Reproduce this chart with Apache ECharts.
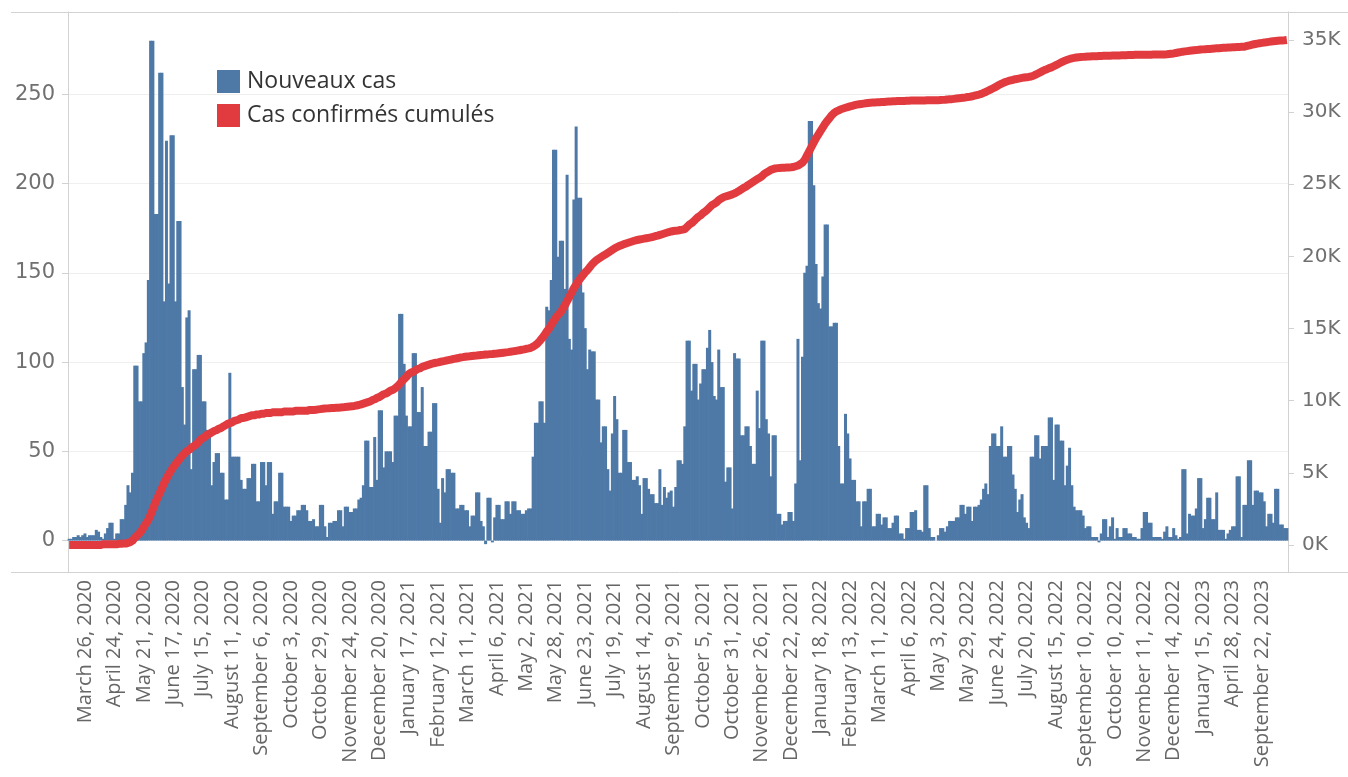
<!DOCTYPE html>
<html><head><meta charset="utf-8">
<script src="https://cdn.jsdelivr.net/npm/echarts@6/dist/echarts.min.js"></script>
<style>html,body{margin:0;padding:0;background:#fff}#chart{width:1348px;height:777px}</style>
</head><body><div id="chart"></div>
<script>
const tickLabels = ["March 26, 2020","April 24, 2020","May 21, 2020","June 17, 2020","July 15, 2020","August 11, 2020","September 6, 2020","October 3, 2020","October 29, 2020","November 24, 2020","December 20, 2020","January 17, 2021","February 12, 2021","March 11, 2021","April 6, 2021","May 2, 2021","May 28, 2021","June 23, 2021","July 19, 2021","August 14, 2021","September 9, 2021","October 5, 2021","October 31, 2021","November 26, 2021","December 22, 2021","January 18, 2022","February 13, 2022","March 11, 2022","April 6, 2022","May 3, 2022","May 29, 2022","June 24, 2022","July 20, 2022","August 15, 2022","September 10, 2022","October 10, 2022","November 11, 2022","December 14, 2022","January 15, 2023","April 28, 2023","September 22, 2023"];
const firstLabelIndex = 7;
const labelStep = 13;

const newCases = [
1,1,2,2,3,2,3,4,2,3,
3,3,6,5,2,1,4,7,10,10,
1,4,4,12,12,20,31,27,38,98,
98,78,78,105,111,146,280,280,183,183,
262,262,134,224,144,227,227,134,179,179,
86,65,125,129,40,96,96,104,104,78,
78,62,62,31,44,49,49,38,38,23,
23,94,47,47,47,47,34,29,29,35,
35,43,43,22,22,44,44,31,44,44,
15,22,22,38,38,19,19,19,11,14,
14,17,17,20,20,17,11,11,12,8,
8,20,20,8,2,10,10,11,11,17,
17,8,19,19,16,16,18,18,23,24,
31,56,56,30,30,58,34,73,73,41,
50,50,50,44,70,70,127,127,99,70,
64,64,105,105,72,72,86,53,53,61,
61,77,77,29,10,35,27,40,40,38,
38,18,18,20,20,17,17,8,14,14,
27,27,11,8,-2,24,24,-1,13,20,
20,12,12,22,22,15,22,22,17,17,
15,15,17,18,18,47,66,66,78,78,
66,131,129,146,219,219,159,168,168,141,
205,113,107,191,232,192,192,139,119,96,
107,106,106,79,79,55,64,64,40,28,
60,81,68,38,38,62,62,44,44,34,
34,36,31,15,35,35,29,26,26,21,
21,40,20,30,24,27,28,19,30,45,
45,43,64,112,112,84,99,99,79,88,
96,96,108,118,100,81,79,107,86,86,
33,41,41,18,105,102,102,59,59,64,
64,53,43,43,84,63,112,112,68,60,
36,59,59,15,15,9,11,11,16,16,
11,32,113,45,103,150,154,235,235,199,
155,133,130,148,177,177,120,120,122,122,
53,32,32,71,60,46,34,34,22,22,
8,22,22,29,29,8,8,15,15,9,
13,13,7,7,10,14,14,4,4,1,
7,7,16,16,17,6,6,5,31,31,
7,2,2,0,3,7,7,5,8,11,
11,11,13,13,20,20,15,19,19,11,
19,19,20,23,29,32,26,53,60,60,
53,53,64,47,47,53,53,37,29,16,
23,26,13,10,7,47,47,59,59,46,
53,53,53,69,69,34,65,65,56,56,
31,42,52,31,19,17,17,17,14,7,
8,8,2,2,2,-1,4,12,12,2,
8,13,1,7,2,2,7,7,4,4,
2,2,1,1,7,16,16,10,10,2,
2,2,2,1,5,8,2,2,7,3,
1,2,40,40,4,15,14,14,18,35,
35,7,12,24,24,12,12,27,6,6,
6,1,4,6,8,8,36,36,2,20,
20,45,45,20,28,28,27,27,22,8,
15,15,10,29,29,9,9,7,7
];

const cumulativeK = [
0,0,0,0,0,0,0,0,0,0,
0,0,0,0,0,0.05,0.05,0.05,0.05,0.05,
0.05,0.05,0.08,0.08,0.1,0.1,0.15,0.2,0.3,0.5,
0.65,0.8,1,1.25,1.5,1.75,2.1,2.5,2.9,3.25,
3.6,3.95,4.3,4.6,4.9,5.15,5.4,5.6,5.8,6,
6.2,6.35,6.5,6.6,6.75,6.85,6.95,7.1,7.3,7.4,
7.5,7.65,7.7,7.8,7.9,7.95,8.05,8.1,8.2,8.3,
8.4,8.45,8.5,8.6,8.65,8.7,8.8,8.8,8.85,8.9,
8.95,9,9,9.05,9.05,9.1,9.1,9.15,9.15,9.15,
9.2,9.2,9.2,9.2,9.2,9.25,9.25,9.25,9.25,9.25,
9.3,9.3,9.3,9.3,9.3,9.3,9.35,9.35,9.35,9.37,
9.4,9.42,9.44,9.46,9.47,9.48,9.49,9.5,9.51,9.52,
9.53,9.54,9.56,9.58,9.6,9.62,9.64,9.67,9.7,9.75,
9.8,9.85,9.9,9.95,10.05,10.1,10.2,10.25,10.35,10.45,
10.5,10.6,10.7,10.75,10.85,11,11.15,11.35,11.5,11.65,
11.85,11.95,12,12.1,12.2,12.25,12.35,12.4,12.45,12.5,
12.55,12.6,12.63,12.66,12.7,12.73,12.76,12.8,12.83,12.86,
12.9,12.93,12.96,13,13.02,13.05,13.07,13.08,13.1,13.12,
13.13,13.15,13.17,13.18,13.2,13.21,13.23,13.24,13.26,13.27,
13.29,13.31,13.33,13.35,13.37,13.4,13.42,13.44,13.47,13.5,
13.53,13.56,13.6,13.63,13.67,13.75,13.85,13.98,14.15,14.35,
14.55,14.8,15,15.25,15.5,15.75,15.95,16.1,16.35,16.6,
16.9,17.2,17.5,17.8,18.05,18.3,18.5,18.7,18.9,19.05,
19.25,19.45,19.6,19.75,19.85,19.95,20.05,20.15,20.25,20.35,
20.45,20.55,20.65,20.72,20.78,20.84,20.9,20.95,21,21.05,
21.1,21.14,21.17,21.2,21.23,21.26,21.29,21.32,21.36,21.4,
21.44,21.49,21.54,21.59,21.64,21.69,21.73,21.76,21.78,21.8,
21.83,21.86,21.9,22.05,22.2,22.3,22.45,22.6,22.75,22.85,
23,23.1,23.25,23.4,23.55,23.65,23.75,23.9,24,24.1,
24.15,24.2,24.25,24.3,24.37,24.45,24.55,24.65,24.75,24.83,
24.95,25.05,25.15,25.25,25.35,25.45,25.55,25.7,25.8,25.9,
26,26.05,26.1,26.12,26.13,26.14,26.15,26.16,26.17,26.18,
26.2,26.25,26.3,26.4,26.5,26.7,27,27.3,27.6,27.9,
28.2,28.45,28.7,28.95,29.2,29.4,29.6,29.8,29.95,30.05,
30.12,30.2,30.25,30.3,30.35,30.4,30.44,30.48,30.52,30.55,
30.57,30.59,30.61,30.63,30.65,30.66,30.67,30.68,30.69,30.7,
30.71,30.72,30.73,30.74,30.75,30.76,30.77,30.77,30.78,30.78,
30.79,30.79,30.8,30.8,30.8,30.81,30.81,30.81,30.81,30.82,
30.82,30.82,30.82,30.82,30.83,30.84,30.85,30.86,30.88,30.89,
30.9,30.92,30.94,30.96,30.98,31,31.02,31.05,31.07,31.1,
31.14,31.18,31.22,31.27,31.34,31.4,31.48,31.56,31.64,31.72,
31.8,31.9,31.98,32.05,32.11,32.16,32.2,32.24,32.28,32.31,
32.34,32.37,32.4,32.42,32.44,32.47,32.52,32.6,32.68,32.76,
32.84,32.92,32.98,33.05,33.1,33.18,33.26,33.34,33.42,33.5,
33.57,33.63,33.68,33.73,33.76,33.79,33.81,33.82,33.83,33.84,
33.85,33.86,33.87,33.88,33.88,33.89,33.89,33.9,33.9,33.91,
33.91,33.92,33.92,33.93,33.93,33.94,33.94,33.95,33.96,33.96,
33.96,33.97,33.97,33.97,33.97,33.98,33.98,33.98,33.98,33.99,
33.99,33.99,34,34,34,34.01,34.03,34.05,34.07,34.1,
34.13,34.16,34.19,34.21,34.23,34.25,34.27,34.29,34.3,34.32,
34.34,34.35,34.36,34.37,34.38,34.4,34.41,34.42,34.43,34.45,
34.46,34.47,34.48,34.48,34.49,34.5,34.51,34.52,34.53,34.53,
34.57,34.61,34.65,34.69,34.72,34.75,34.78,34.8,34.82,34.85,
34.87,34.89,34.91,34.93,34.95,34.96,34.97,34.98,35
];

const leftTicks = [0, 50, 100, 150, 200, 250];
const rightTicksK = [0, 5, 10, 15, 20, 25, 30, 35];

const labelAt = {};
tickLabels.forEach((t, k) => { labelAt[firstLabelIndex + k * labelStep] = t; });
const categories = newCases.map((_, i) => labelAt[i] !== undefined ? labelAt[i] : 'c' + i);

const chart = echarts.init(document.getElementById('chart'), null, {renderer: 'canvas'});
const gray = '#d2d2d2';
const blue = '#4e79a7';
const red = '#e13b40';
chart.setOption({
  animation: false,
  backgroundColor: '#ffffff',
  grid: {left: 68, right: 60, top: 12, bottom: 205, containLabel: false},
  legend: {
    orient: 'vertical', left: 217, top: 70, padding: 0,
    itemWidth: 23, itemHeight: 23, itemGap: 11, icon: 'rect',
    textStyle: {fontFamily: 'Open Sans', fontSize: 23, color: '#333333', padding: [0, 0, 0, 2]},
    data: ['Nouveaux cas', 'Cas confirmés cumulés']
  },
  xAxis: {
    type: 'category', data: categories, boundaryGap: true,
    axisLine: {show: false}, axisTick: {show: false},
    axisLabel: {
      rotate: 90, margin: 8,
      interval: (idx) => labelAt[idx] !== undefined,
      formatter: (v, idx) => labelAt[idx] || '',
      fontFamily: 'Open Sans', fontSize: 20, color: '#666666'
    },
    splitLine: {show: false}
  },
  yAxis: [
    {
      type: 'value', position: 'left', min: -17.6, max: 296.1,
      axisLine: {show: true, lineStyle: {color: gray}},
      axisTick: {show: true, length: 6, lineStyle: {color: gray}, customValues: leftTicks},
      axisLabel: {customValues: leftTicks, margin: 13, fontFamily: 'DejaVu Sans', fontSize: 21, color: '#707070'},
      splitLine: {show: true, lineStyle: {color: '#efefef', width: 1}}
    },
    {
      type: 'value', position: 'right', min: -1.87, max: 36.94,
      axisLine: {show: true, lineStyle: {color: gray}},
      axisTick: {show: true, length: 6, lineStyle: {color: gray}, customValues: rightTicksK},
      axisLabel: {customValues: rightTicksK, margin: 14, formatter: '{value}K', fontFamily: 'DejaVu Sans', fontSize: 20, color: '#707070'},
      splitLine: {show: false}
    }
  ],
  series: [
    {
      name: 'Nouveaux cas', type: 'bar', data: newCases, yAxisIndex: 0,
      barWidth: 3, barGap: '0%',
      itemStyle: {color: blue}, clip: false
    },
    {
      name: 'Cas confirmés cumulés', type: 'line', data: cumulativeK, yAxisIndex: 1,
      showSymbol: false, symbol: 'none',
      lineStyle: {color: red, width: 8, cap: 'butt', join: 'round'},
      itemStyle: {color: red}, z: 5
    }
  ],
  graphic: [
    {type: 'line', shape: {x1: 11, y1: 12.5, x2: 1348, y2: 12.5}, style: {stroke: gray, lineWidth: 1}, silent: true},
    {type: 'line', shape: {x1: 11, y1: 572.5, x2: 1348, y2: 572.5}, style: {stroke: gray, lineWidth: 1}, silent: true}
  ]
});
</script>
</body></html>
